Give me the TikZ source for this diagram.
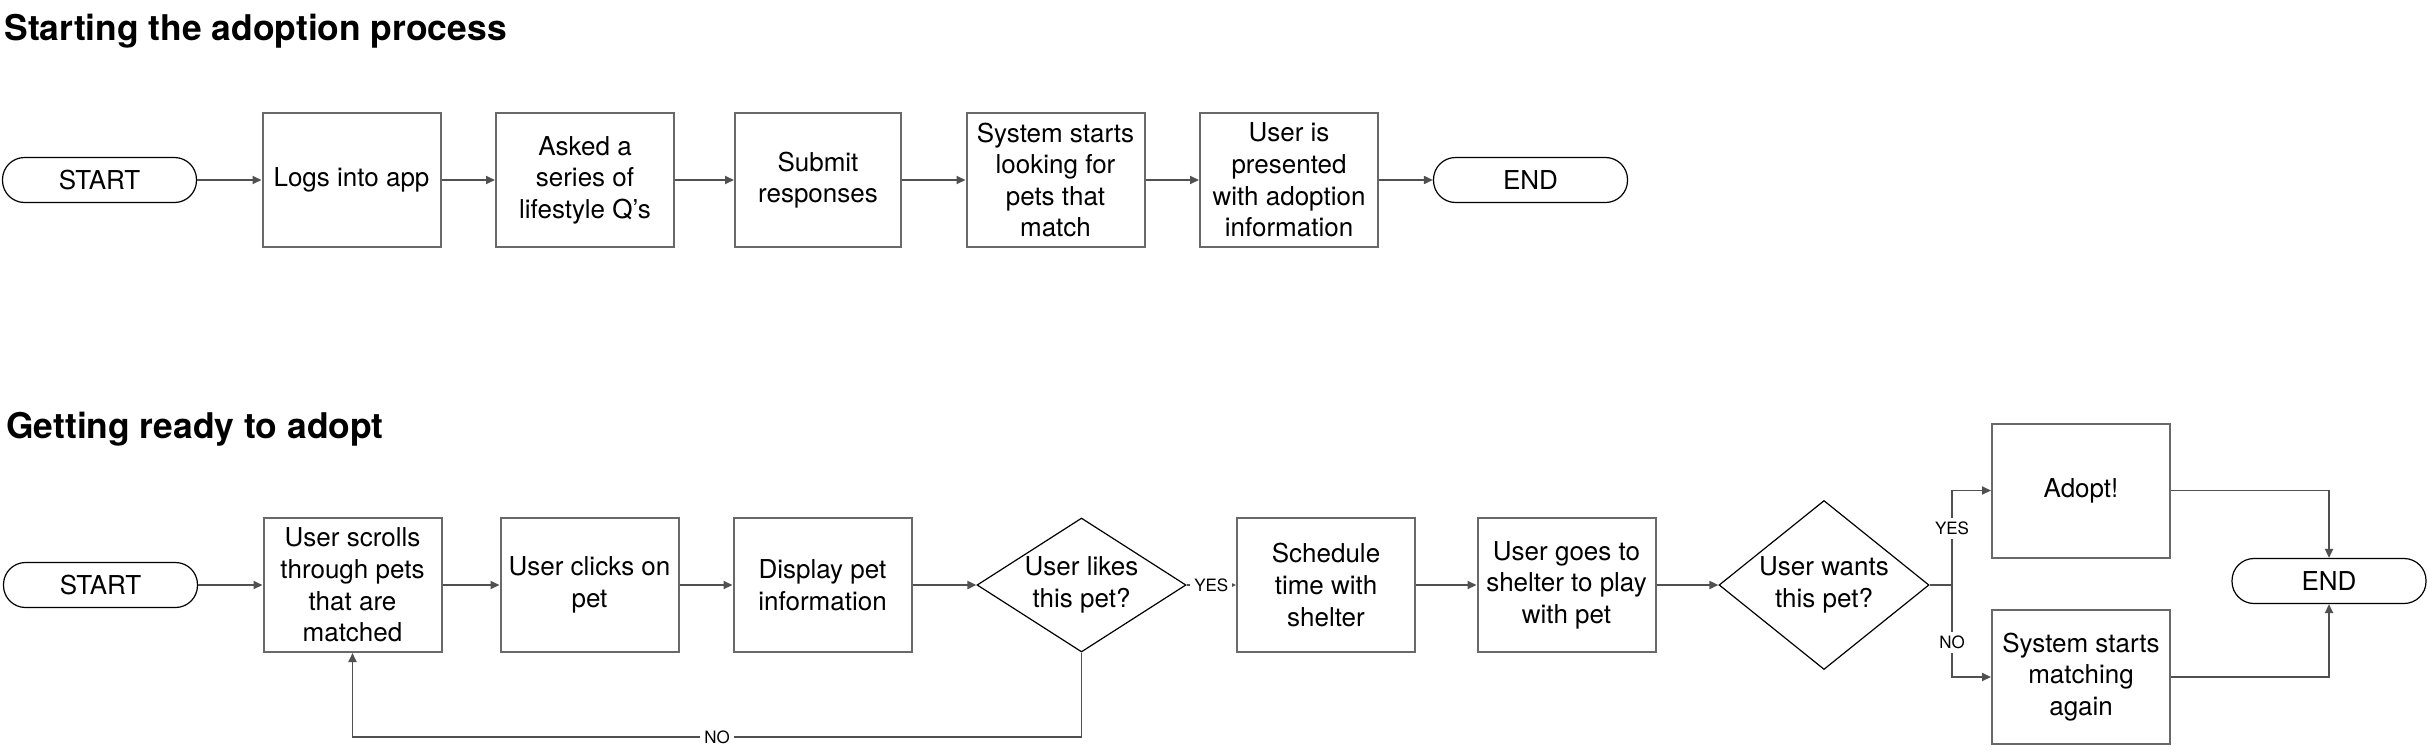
\documentclass[tikz,border=0pt]{standalone}
\usepackage{fontspec}
\setmainfont{TeX Gyre Heros}
\usetikzlibrary{shapes.geometric,arrows.meta}
\definecolor{edgegray}{RGB}{80,80,80}
\definecolor{boxgray}{RGB}{105,105,105}
\newcommand{\boxfont}{\fontsize{13}{15.8}\selectfont}
\newcommand{\lblfont}{\fontsize{8.5}{10}\selectfont}

\begin{document}
\begin{tikzpicture}[x=0.5pt, y=-0.5pt,
    box/.style={draw=boxgray, line width=1pt, minimum width=89pt, minimum height=67pt, inner sep=1pt, align=center, font=\boxfont},
    term/.style={draw=black, line width=0.6pt, rounded corners=11pt, minimum width=97pt, minimum height=22.5pt, inner sep=1pt, font=\boxfont},
    decision/.style={diamond, draw=black, line width=0.6pt, inner sep=0pt, align=center, font=\boxfont},
    heading/.style={anchor=base west, inner sep=0pt, font=\fontsize{17.7}{21}\selectfont\bfseries},
    lbl/.style={fill=white, inner sep=2pt, font=\lblfont},
    edge/.style={draw=edgegray, line width=0.9pt},
    flow/.style={edge, -{Triangle[length=4.5pt,width=4pt]}}]
          \useasboundingbox (0,0) rectangle (2428,755);

          % first process
          \node[heading] (title1) at (4,40) {Starting the adoption process};
          \node[term] (start1) at (99.5,180) {START};
          \node[box] (logs) at (351.5,180) {Logs into app};
          \node[box] (asked) at (585,180) {Asked a\\series of\\lifestyle Q’s};
          \node[box, minimum width=83pt] (submit) at (818,180) {Submit\\responses};
          \node[box] (looking) at (1055.5,180) {System starts\\looking for\\pets that\\match};
          \node[box] (presented) at (1289,180) {User is\\presented\\with adoption\\information};
          \node[term] (end1) at (1530.5,180) {END};

          \foreach \a/\b in {start1/logs, logs/asked, asked/submit, submit/looking, looking/presented, presented/end1}
            \draw[flow] (\a) -- (\b);

          % second process
          \node[heading] (title2) at (6,438) {Getting ready to adopt};
          \node[term] (start2) at (100.5,585) {START};
          \node[box] (scroll) at (352.5,585) {User scrolls\\through pets\\that are\\matched};
          \node[box] (clicks) at (589.5,585) {User clicks on\\pet};
          \node[box] (display) at (822.5,585) {Display pet\\information};
          \node[decision, minimum width=104.5pt, minimum height=67pt, shape aspect=1.56] (likes) at (1081.5,585) {User likes\\this pet?};
          \node[box] (schedule) at (1326,585) {Schedule\\time with\\shelter};
          \node[box] (goes) at (1566.5,585) {User goes to\\shelter to play\\with pet};
          \node[decision, minimum width=105pt, minimum height=84.5pt, shape aspect=1.24] (wants) at (1824,585) {User wants\\this pet?};
          \node[box] (adopt) at (2081,490.5) {Adopt!};
          \node[box] (again) at (2081,677) {System starts\\matching\\again};
          \node[term] (end2) at (2329,581) {END};
          \coordinate (fork) at (1952,585);
          \coordinate (back) at (352.5,737);

          \foreach \a/\b in {start2/scroll, scroll/clicks, clicks/display, display/likes, schedule/goes, goes/wants}
            \draw[flow] (\a) -- (\b);
          \draw[flow] (likes) -- node[lbl] {YES} (schedule);
          \draw[flow] (likes.south) |- node[lbl, pos=0.75] {NO} (back) -- (scroll.south);
          \draw[edge] (wants) -- (fork);
          \draw[flow] (fork) |- node[lbl, pos=0.3] {YES} (adopt);
          \draw[flow] (fork) |- node[lbl, pos=0.31] {NO} (again);
          \draw[flow] (adopt) -| (end2);
          \draw[flow] (again) -| (end2);
        \end{tikzpicture}
\end{document}
